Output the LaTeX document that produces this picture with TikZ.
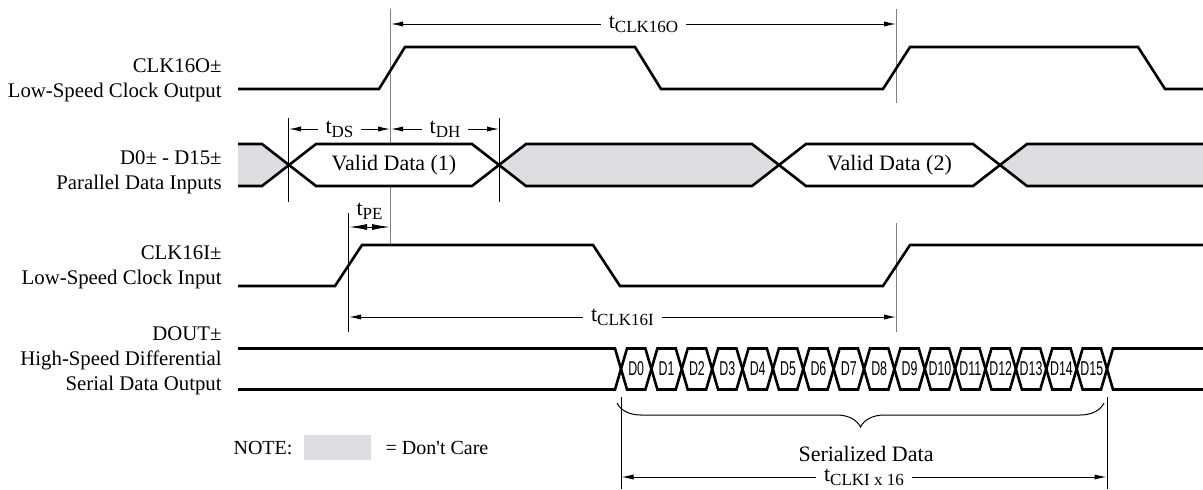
\documentclass[tikz,border=0pt]{standalone}
\usepackage{fontspec}
\setmainfont{Liberation Serif}
\newfontfamily\bitfont{Liberation Sans}
\usetikzlibrary{arrows.meta,decorations.pathreplacing}

\definecolor{dontcare}{RGB}{220,221,224}
\newcommand{\tdly}[1]{t\raisebox{-2pt}{\fontsize{8.5pt}{9pt}\selectfont #1}}

\begin{document}
\begin{tikzpicture}[x=0.5pt, y=-0.5pt,
		sig/.style={line width=1.3pt, line join=miter},
		guide/.style={line width=0.5pt},
		refline/.style={line width=0.7pt, gray},
		dim/.style={line width=0.5pt, {Latex[length=6pt,width=2.6pt]}-{Latex[length=6pt,width=2.6pt]}},
		lbl/.style={font=\fontsize{10.4pt}{12.5pt}\selectfont, align=right, anchor=east, inner sep=0pt},
		tlabel/.style={fill=white, inner xsep=4pt, inner ysep=0pt, font=\fontsize{11pt}{13pt}\selectfont},
		txt/.style={font=\fontsize{11pt}{13pt}\selectfont, inner sep=0pt},
		bit/.style={font=\bitfont\fontsize{10pt}{10pt}\selectfont, inner sep=0pt},
	]
	\useasboundingbox (0,0) rectangle (1203,489);

	% reference lines
	\coordinate (ro1) at (390.5,8.5);   \coordinate (ro2) at (390.5,244);
	\coordinate (rp1) at (896.7,9);     \coordinate (rp2) at (896.7,102.7);
	\coordinate (rq1) at (896.7,223);   \coordinate (rq2) at (896.7,332);
	\coordinate (gs1) at (288.5,118);   \coordinate (gs2) at (288.5,201.7);
	\coordinate (gh1) at (499.3,118);   \coordinate (gh2) at (499.3,201.7);
	\coordinate (ge1) at (348.3,213);   \coordinate (ge2) at (348.3,332);
	\coordinate (gb1) at (621,397);     \coordinate (gb2) at (621,489);
	\coordinate (gf1) at (1107,397);    \coordinate (gf2) at (1107,489);
	\draw[refline] (ro1) -- (ro2);
	\draw[refline] (rp1) -- (rp2);
	\draw[refline] (rq1) -- (rq2);
	\draw[guide] (gs1) -- (gs2);
	\draw[guide] (gh1) -- (gh2);
	\draw[guide] (ge1) -- (ge2);
	\draw[guide] (gb1) -- (gb2);
	\draw[guide] (gf1) -- (gf2);

	% signal names
	\node[lbl] (lclko) at (222,80.5)  {CLK16O±\\Low-Speed Clock Output};
	\node[lbl] (ldata) at (222,172.5) {D0± - D15±\\Parallel Data Inputs};
	\node[lbl] (lclki) at (222,267.5) {CLK16I±\\Low-Speed Clock Input};
	\node[lbl] (ldout) at (222,361)   {DOUT±\\High-Speed Differential\\Serial Data Output};

	% CLK16O
	\draw[sig] (238,89) -- (379,89) -- (405,47) -- (635,47) -- (661,89) -- (883,89)
		-- (910,47) -- (1138,47) -- (1165,89) -- (1203,89);

	% parallel data bus
	\fill[dontcare] (238,144) -- (262,144) -- (289,165) -- (262,186) -- (238,186) -- cycle;
	\draw[sig] (238,144) -- (262,144) -- (289,165) -- (262,186) -- (238,186);
	\filldraw[sig, fill=white] (289,165) -- (316,144) -- (472,144) -- (499,165) -- (472,186) -- (316,186) -- cycle;
	\filldraw[sig, fill=dontcare] (499,165) -- (526,144) -- (752,144) -- (779,165) -- (752,186) -- (526,186) -- cycle;
	\filldraw[sig, fill=white] (779,165) -- (806,144) -- (973,144) -- (1000,165) -- (973,186) -- (806,186) -- cycle;
	\fill[dontcare] (1000,165) -- (1027,144) -- (1203,144) -- (1203,186) -- (1027,186) -- cycle;
	\draw[sig] (1203,144) -- (1027,144) -- (1000,165) -- (1027,186) -- (1203,186);
	\node[txt] (vd1) at (394,165) {Valid Data (1)};
	\node[txt] (vd2) at (889.5,165) {Valid Data (2)};

	% CLK16I
	\draw[sig] (238,286) -- (335,286) -- (362,245) -- (593,245) -- (620,286) -- (883,286)
		-- (910,245) -- (1203,245);

	% DOUT serial stream
	\draw[sig] (238,348.5)
		\foreach \k [evaluate=\k as \xa using {621+30.375*\k-6},
			evaluate=\k as \xb using {621+30.375*\k+6},
			evaluate=\k as \ya using {348.5+41*mod(\k,2)},
			evaluate=\k as \yb using {389.5-41*mod(\k,2)}] in {0,...,16} { -- (\xa,\ya) -- (\xb,\yb) }
		-- (1203,389.5);
	\draw[sig] (238,389.5)
		\foreach \k [evaluate=\k as \xa using {621+30.375*\k-6},
			evaluate=\k as \xb using {621+30.375*\k+6},
			evaluate=\k as \ya using {389.5-41*mod(\k,2)},
			evaluate=\k as \yb using {348.5+41*mod(\k,2)}] in {0,...,16} { -- (\xa,\ya) -- (\xb,\yb) }
		-- (1203,348.5);
	\foreach \k in {0,...,15}
		\node[bit] (d\k) at ({621+30.375*(\k+0.5)},369) {\scalebox{0.62}[1]{D\k}};

	% timing parameters
	\draw[dim] (391,24) -- node[tlabel] (tclko) {\tdly{CLK16O}} (896,24);
	\draw[dim] (289,129) -- node[tlabel] (tds) {\tdly{DS}} (390,129);
	\draw[dim] (391,129) -- node[tlabel] (tdh) {\tdly{DH}} (499,129);
	\draw[line width=0.5pt, {Latex[length=9pt,width=3pt]}-{Latex[length=9pt,width=3pt]}] (349,227) -- (390,227);
	\node[txt] (tpe) at (369.5,211) {\tdly{PE}};
	\draw[dim] (349,317) -- node[tlabel] (tclki) {\tdly{CLK16I}} (896,317);
	\draw[dim] (621.5,477) -- node[tlabel] (tclkx) {\tdly{CLKI x 16}} (1106.5,477);

	% serialized data brace
	\draw[guide, decorate, decoration={brace, mirror, amplitude=12pt}] (617,403) -- (1104,403);
	\node[txt] (ser) at (866,454) {Serialized Data};

	% legend
	\node[font=\fontsize{10pt}{12pt}\selectfont, inner sep=0pt] (note) at (263,448) {NOTE:};
	\node[fill=dontcare, minimum width=33.5pt, minimum height=12.5pt, inner sep=0pt] (dcbox) at (337.5,447.5) {};
	\node[font=\fontsize{10pt}{12pt}\selectfont, inner sep=0pt] (dclbl) at (437,448) {= Don\textquotesingle t Care};
\end{tikzpicture}
\end{document}
